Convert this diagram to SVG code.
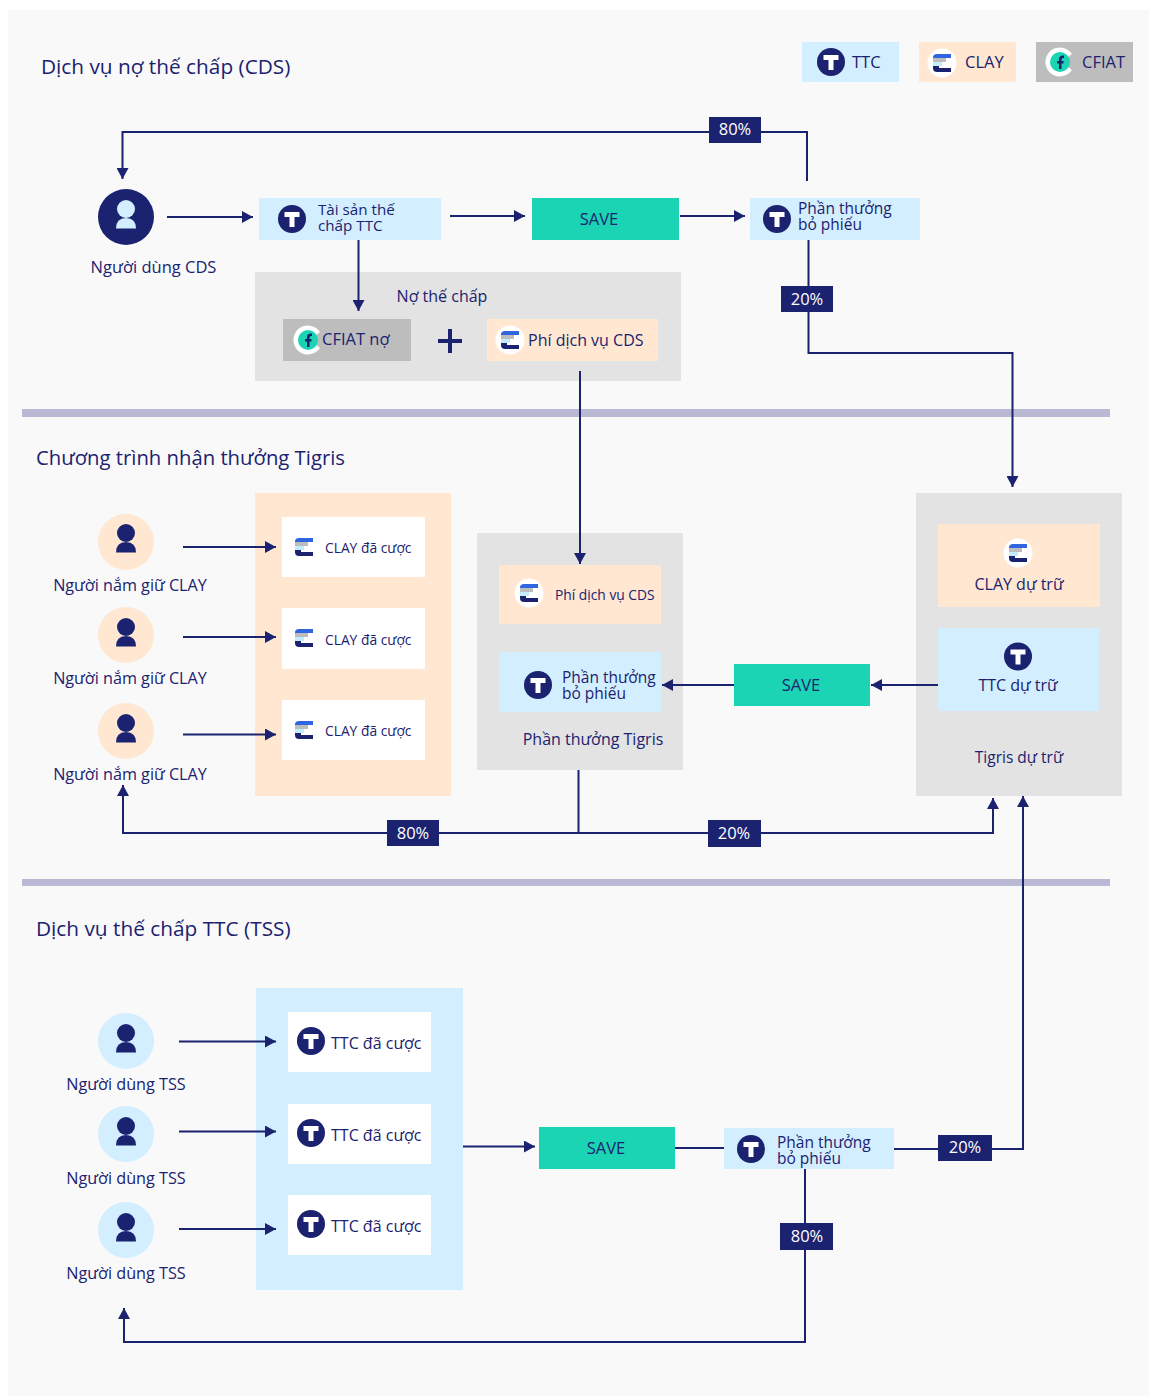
<svg xmlns="http://www.w3.org/2000/svg" width="1149" height="1396" viewBox="0 0 1149 1396">
<style>
text{font-family:"Open Sans","Noto Sans","Liberation Sans",sans-serif;fill:#1b2270;font-size:16px}
.h{font-size:20.800px}
.c{text-anchor:middle}
.s{font-size:13.800px}
.m{font-size:15.500px}
.b{font-size:16.500px}
.n{font-size:16.200px}
.w{fill:#fff;font-size:16.500px;text-anchor:middle}
.l{fill:none;stroke:#1b2270;stroke-width:2}
.a{marker-end:url(#arr)}
.sep{fill:#b9b9d6}
.blue{fill:#d3eeff}.peach{fill:#ffe7d1}.grey{fill:#e3e3e3}.dgrey{fill:#bdbdbd}.green{fill:#1ad4b3}.navy{fill:#1b2270}
</style>
<defs>
<marker id="arr" markerUnits="userSpaceOnUse" markerWidth="12" markerHeight="12" refX="11" refY="6" orient="auto"><path d="M0,0L11,6L0,12Z" fill="#1b2270"/></marker>
<g id="ttc"><circle r="14" fill="#1b2270"/><path d="M-7.500,-7H7.500V-2H2.500V8H-2.500V-2H-7.500Z" fill="#fff"/></g>
<g id="clay0"><path d="M-9,-5.500Q-9,-9 -5,-9H9V-5H-9Z" fill="#2f66e0"/><path d="M-9,-5H4V-1H-9Z" fill="#bdbdbd"/><path d="M-9,-1H0V3H-9Z" fill="#c4ecff"/><path d="M-9,3H9V9H-5Q-9,9 -9,5Z" fill="#1b2270"/><path d="M-3,3H9V5H-3Z" fill="#fff"/></g>
<g id="clay"><circle r="14.500" fill="#fff"/><use href="#clay0"/></g>
<g id="cfiat"><path d="M12,-8A14.500,14.500 0 1 0 12,8L8,5V-5Z" fill="#fff"/><circle r="10" fill="#1ad4b3"/><path d="M-3,-1H-1V-3Q-1,-7 4,-6.500V-4Q1.500,-4.500 1.500,-2.500V-1H3.500V1.500H1.500V7H-1V1.500H-3Z" fill="#1b2270"/></g>
<g id="user"><circle cy="-8" r="9" fill="currentColor"/><path d="M-10,11.500Q-10,1 0,1Q10,1 10,11.500Z" fill="currentColor"/></g>
</defs>
<rect width="1149" height="1396" fill="#fff"/>
<rect x="8" y="10" width="1141" height="1386" fill="#f9f9f9"/>

<g id="headings">
<text class="h" x="41" y="74">Dịch vụ nợ thế chấp (CDS)</text>
<text class="h" x="36" y="465" style="font-size:20.300px">Chương trình nhận thưởng Tigris</text>
<text class="h" x="36" y="936">Dịch vụ thế chấp TTC (TSS)</text>
</g>
<g id="separators">
<rect class="sep" x="22" y="409" width="1088" height="8"/>
<rect class="sep" x="22" y="879" width="1088" height="7"/>
</g>

<g id="legend">
<g id="legend-ttc"><rect class="blue" x="802" y="42" width="97" height="40"/><use href="#ttc" x="831" y="62"/><text class="b" x="852" y="68">TTC</text></g>
<g id="legend-clay"><rect class="peach" x="919" y="42" width="97" height="40"/><use href="#clay" x="942" y="63"/><text class="b" x="965" y="68">CLAY</text></g>
<g id="legend-cfiat"><rect class="dgrey" x="1036" y="42" width="97" height="40"/><use href="#cfiat" x="1060" y="62"/><text class="b" x="1082" y="68">CFIAT</text></g>
</g>

<g id="containers">
<rect class="grey" x="255" y="272" width="426" height="109"/>
<rect class="peach" x="255" y="493" width="196" height="303"/>
<rect class="grey" x="477" y="533" width="206" height="237"/>
<rect class="grey" x="916" y="493" width="206" height="303"/>
<rect class="blue" x="256" y="988" width="207" height="302"/>
</g>

<g id="connectors">
<path class="l a" d="M807,181V132H122.500V179"/>
<path class="l a" d="M167,217H253"/>
<path class="l a" d="M450,216H525"/>
<path class="l a" d="M680,216H745"/>
<path class="l a" d="M358.500,240V311"/>
<path class="l a" d="M808.500,240V353H1012.500V487"/>
<path class="l a" d="M580,371V564"/>
<path class="l a" d="M183,547H276"/>
<path class="l a" d="M183,637H276"/>
<path class="l a" d="M183,734.500H276"/>
<path class="l a" d="M938,685H871"/>
<path class="l a" d="M734,685H662"/>
<path class="l a" d="M578.500,770V833H123V785"/>
<path class="l a" d="M578.500,833H993V798"/>
<path class="l a" d="M179,1041.500H276"/>
<path class="l a" d="M179,1131.500H276"/>
<path class="l a" d="M179,1229H276"/>
<path class="l a" d="M463,1146.500H535"/>
<path class="l" d="M675,1148H724"/>
<path class="l a" d="M894,1149H1023V796"/>
<path class="l a" d="M805,1169V1342H124V1308"/>
<path d="M438,341H462M450,329V353" fill="none" stroke="#1b2270" stroke-width="4"/>
</g>

<g id="pct">
<g><rect class="navy" x="709" y="117" width="52" height="26"/><text class="w" x="735" y="135">80%</text></g>
<g><rect class="navy" x="781" y="286" width="52" height="26"/><text class="w" x="807" y="305">20%</text></g>
<g><rect class="navy" x="387" y="820" width="52" height="26"/><text class="w" x="413" y="839">80%</text></g>
<g><rect class="navy" x="708" y="820" width="53" height="27"/><text class="w" x="734" y="839">20%</text></g>
<g><rect class="navy" x="938" y="1135" width="54" height="26"/><text class="w" x="965" y="1153">20%</text></g>
<g><rect class="navy" x="780" y="1223" width="53" height="27"/><text class="w" x="807" y="1242">80%</text></g>
</g>

<g id="user-cds" color="#d3eeff"><circle class="navy" cx="126" cy="217" r="28"/><use href="#user" x="126" y="217"/><text class="c b" x="153.500" y="272.500">Người dùng CDS</text></g>
<g id="tai-san"><rect class="blue" x="259" y="198" width="182" height="42"/><use href="#ttc" x="292" y="219"/><text x="318" y="215" style="font-size:15.200px">Tài sản thế</text><text x="318" y="231" style="font-size:15.200px">chấp TTC</text></g>
<g id="save1"><rect class="green" x="532" y="198" width="147" height="42"/><text class="c b" x="599" y="225">SAVE</text></g>
<g id="reward1"><rect class="blue" x="750" y="198" width="170" height="42"/><use href="#ttc" x="777" y="219"/><text class="m" x="798" y="214">Phần thưởng</text><text class="m" x="798" y="230">bỏ phiếu</text></g>
<g id="debt"><text class="c" x="442" y="301.500">Nợ thế chấp</text></g>
<g id="cfiat-no"><rect class="dgrey" x="283" y="319" width="128" height="42"/><use href="#cfiat" x="308" y="340"/><text class="b" x="322" y="345">CFIAT nợ</text></g>
<g id="fee1"><rect class="peach" x="487" y="319" width="171" height="42"/><use href="#clay" x="510" y="340"/><text x="528" y="345.500">Phí dịch vụ CDS</text></g>

<g id="holder1" color="#1b2270"><circle class="peach" cx="126" cy="542" r="28"/><use href="#user" x="126" y="541"/><text class="c n" x="130" y="590.500">Người nắm giữ CLAY</text></g>
<g id="holder2" color="#1b2270"><circle class="peach" cx="126" cy="635" r="28"/><use href="#user" x="126" y="635"/><text class="c n" x="130" y="683.500">Người nắm giữ CLAY</text></g>
<g id="holder3" color="#1b2270"><circle class="peach" cx="126" cy="731" r="28"/><use href="#user" x="126" y="731"/><text class="c n" x="130" y="779.500">Người nắm giữ CLAY</text></g>
<g id="stake1"><rect x="282" y="517" width="143" height="60" fill="#fff"/><use href="#clay0" x="304" y="547"/><text class="s" x="325" y="553">CLAY đã cược</text></g>
<g id="stake2"><rect x="282" y="608" width="143" height="61" fill="#fff"/><use href="#clay0" x="304" y="638"/><text class="s" x="325" y="644.500">CLAY đã cược</text></g>
<g id="stake3"><rect x="282" y="700" width="143" height="60" fill="#fff"/><use href="#clay0" x="304" y="730"/><text class="s" x="325" y="736">CLAY đã cược</text></g>

<g id="fee2"><rect class="peach" x="499" y="565" width="162" height="59"/><use href="#clay" x="529" y="593"/><text class="s" x="555" y="600">Phí dịch vụ CDS</text></g>
<g id="reward2"><rect class="blue" x="499" y="652" width="162" height="60"/><use href="#ttc" x="538" y="685"/><text class="m" x="562" y="683">Phần thưởng</text><text class="m" x="562" y="699">bỏ phiếu</text></g>
<text class="c" x="593" y="745">Phần thưởng Tigris</text>
<g id="save2"><rect class="green" x="734" y="664" width="136" height="42"/><text class="c b" x="801" y="691">SAVE</text></g>
<g id="clay-reserve"><rect class="peach" x="938" y="524" width="162" height="83"/><use href="#clay" x="1018" y="553"/><text class="c" x="1019" y="589.500">CLAY dự trữ</text></g>
<g id="ttc-reserve"><rect class="blue" x="938" y="628" width="161" height="83"/><use href="#ttc" x="1018" y="656.500"/><text class="c" x="1018" y="690.500">TTC dự trữ</text></g>
<text class="c m" x="1019" y="762.500">Tigris dự trữ</text>

<g id="tss1" color="#1b2270"><circle class="blue" cx="126" cy="1041" r="28"/><use href="#user" x="126" y="1041"/><text class="c n" x="126" y="1089.500">Người dùng TSS</text></g>
<g id="tss2" color="#1b2270"><circle class="blue" cx="126" cy="1134" r="28"/><use href="#user" x="126" y="1134"/><text class="c n" x="126" y="1183.500">Người dùng TSS</text></g>
<g id="tss3" color="#1b2270"><circle class="blue" cx="126" cy="1230" r="28"/><use href="#user" x="126" y="1230"/><text class="c n" x="126" y="1279">Người dùng TSS</text></g>
<g id="ts1"><rect x="288" y="1012" width="143" height="60" fill="#fff"/><use href="#ttc" x="311" y="1041"/><text x="331" y="1048.500">TTC đã cược</text></g>
<g id="ts2"><rect x="288" y="1104" width="143" height="60" fill="#fff"/><use href="#ttc" x="311" y="1133"/><text x="331" y="1140.500">TTC đã cược</text></g>
<g id="ts3"><rect x="288" y="1195" width="143" height="60" fill="#fff"/><use href="#ttc" x="311" y="1224"/><text x="331" y="1231.500">TTC đã cược</text></g>
<g id="save3"><rect class="green" x="539" y="1127" width="136" height="42"/><text class="c b" x="606" y="1154">SAVE</text></g>
<g id="reward3"><rect class="blue" x="724" y="1128" width="170" height="41"/><use href="#ttc" x="751" y="1149"/><text class="m" x="777" y="1148">Phần thưởng</text><text class="m" x="777" y="1164">bỏ phiếu</text></g>
</svg>
